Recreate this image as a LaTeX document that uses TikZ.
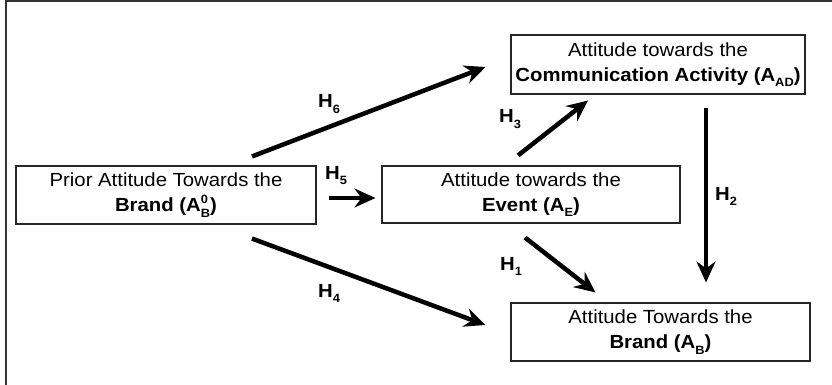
\documentclass[tikz,border=0pt]{standalone}
\usepackage{fontspec}
\setmainfont{Liberation Sans}[FakeStretch=1.07]
\usetikzlibrary{arrows.meta}

% lowered / raised small figures for the attitude symbols
\newcommand{\lowidx}[1]{\raisebox{-0.3em}{\fontsize{12}{12}\selectfont #1}}
\newcommand{\hidx}[1]{\raisebox{-0.3em}{\fontsize{12}{12}\selectfont #1}}
\newcommand{\zeroB}{\rlap{\raisebox{0.42em}{\fontsize{12}{12}\selectfont 0}}\lowidx{B}}

\tikzset{
  box/.style={draw=black!85, line width=1.1pt, fill=white, align=center,
    font=\fontsize{19}{25}\selectfont, inner sep=0pt},
  hyp/.style={-{Stealth[length=21pt,width=19pt,inset=7pt]}, line width=4.5pt, black},
  hlabel/.style={anchor=base west, inner sep=0pt, font=\fontsize{19}{19}\selectfont\bfseries}
}

\begin{document}
\begin{tikzpicture}[x=1pt,y=-1pt]
  \useasboundingbox (0,0) rectangle (832,385);
  % frame
  \draw[line width=2pt, black!80] (6,385) -- (6,1.5) -- (832,1.5);

  % constructs
  \node[box, minimum width=300pt, minimum height=58pt] (prior) at (166,195)
    {Prior Attitude Towards the\\\textbf{Brand (A\zeroB)}};
  \node[box, minimum width=298pt, minimum height=57pt] (event) at (531,194.5)
    {Attitude towards the\\\textbf{Event (A\lowidx{E})}};
  \node[box, minimum width=294pt, minimum height=59pt] (comm) at (658,64.5)
    {Attitude towards the\\\textbf{Communication Activity (A\lowidx{AD})}};
  \node[box, minimum width=299pt, minimum height=58pt] (brand) at (660.5,332)
    {Attitude Towards the\\\textbf{Brand (A\lowidx{B})}};

  % hypothesised paths
  \draw[hyp] ([shift={(86,-9)}]prior.north) -- ([shift={(-25,2.5)}]comm.west);
  \draw[hyp] ([shift={(86,14)}]prior.south) -- ([shift={(-25,-7)}]brand.west);
  \draw[hyp] ([shift={(12,3)}]prior.east) -- ([shift={(-6,3.5)}]event.west);
  \draw[hyp] ([shift={(-13,-10)}]event.north) -- ([shift={(-70,6)}]comm.south);
  \draw[hyp] ([shift={(48,13)}]comm.south) -- ([shift={(45.5,-20)}]brand.north);
  \draw[hyp] ([shift={(-6,14)}]event.south) -- ([shift={(-65,-10)}]brand.north);

  % path labels
  \node[hlabel] (h6) at (318,108) {H\hidx{6}};
  \node[hlabel] (h5) at (325,179) {H\hidx{5}};
  \node[hlabel] (h4) at (318,297) {H\hidx{4}};
  \node[hlabel] (h3) at (499,123) {H\hidx{3}};
  \node[hlabel] (h2) at (715,200) {H\hidx{2}};
  \node[hlabel] (h1) at (500,270) {H\hidx{1}};
\end{tikzpicture}
\end{document}
